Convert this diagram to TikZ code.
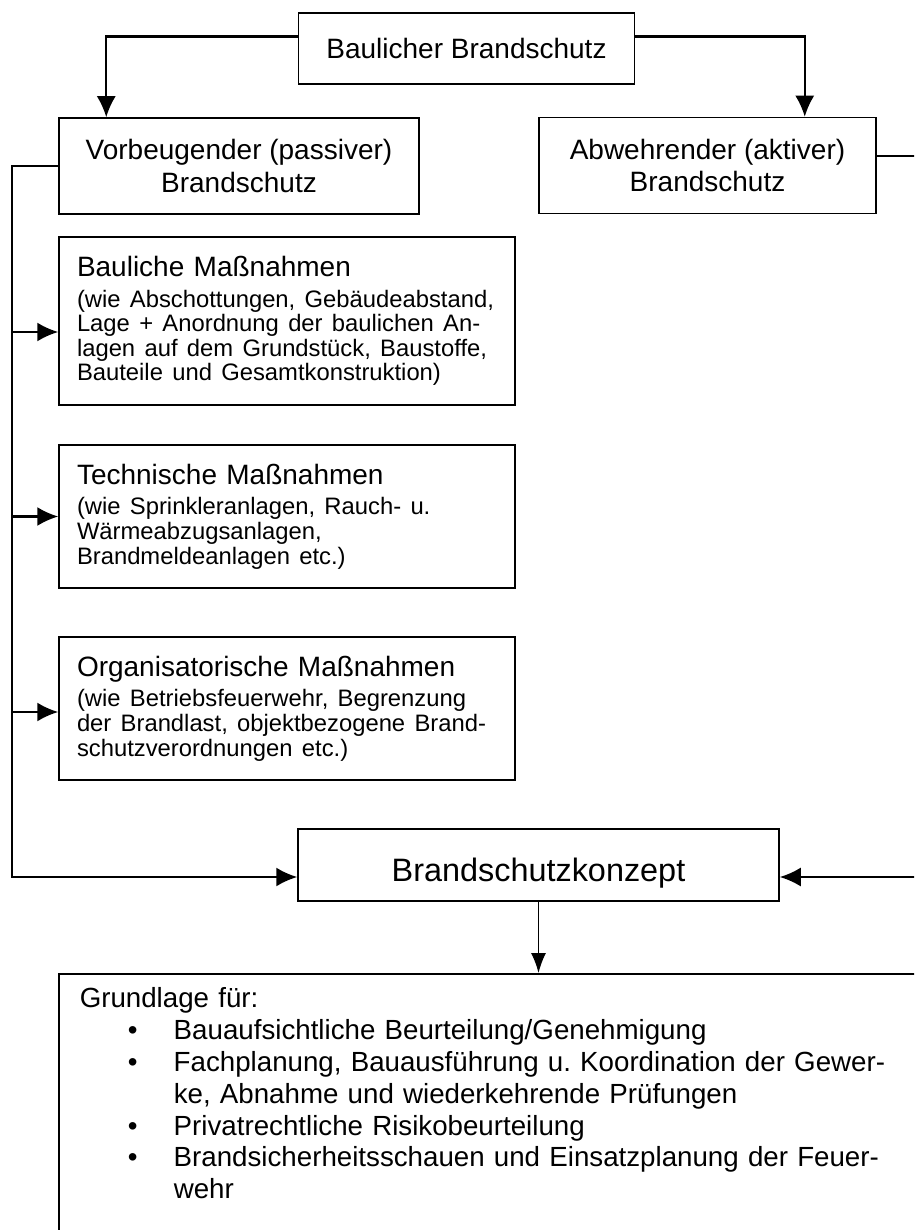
\documentclass[tikz,border=0pt]{standalone}
\usepackage{fontspec}
\setmainfont{Liberation Sans}
\usetikzlibrary{arrows.meta}
\frenchspacing

\newcommand{\grosstext}{\fontsize{28}{32.2}\selectfont}
\newcommand{\kleintext}{\fontsize{23.8}{24.6}\selectfont}
\newcommand{\punkt}{\makebox[94pt][l]{\hspace{48pt}\textbullet}}
\newcommand{\weiter}{\leavevmode\hspace*{94pt}}

\begin{document}
\begin{tikzpicture}[x=1pt,y=-1pt,
        kasten/.style={draw,line width=1.5pt,font=\grosstext,inner sep=0pt},
        massnahme/.style={kasten,inner xsep=18pt,text width=#1},
        pfeil/.style={line width=2.2pt,-{Latex[length=21pt,width=19pt]}}]
        \useasboundingbox (0,0) rectangle (914,1230);
        \clip (0,0) rectangle (914,1230);
        % Kaesten
        \node[kasten,minimum width=336pt,minimum height=71pt] (baulich) at (466.5,48.5) {Baulicher Brandschutz};
        \node[kasten,align=center,minimum width=360pt,minimum height=96pt] (vorbeugend) at (239,166) {Vorbeugender (passiver)\\Brandschutz};
        \node[kasten,align=center,minimum width=337pt,minimum height=96pt] (abwehrend) at (707.5,165.5) {Abwehrender (aktiver)\\Brandschutz};
        \node[massnahme=420pt,minimum height=168pt] (bau) at (287,321) {\raggedright Bauliche Maßnahmen\\[6pt]\kleintext \mbox{(wie Abschottungen, Gebäudeabstand,}\\\mbox{Lage + Anordnung der baulichen An-}\\\mbox{lagen auf dem Grundstück, Baustoffe,}\\Bauteile und Gesamtkonstruktion)\par};
        \node[massnahme=420pt,minimum height=143pt] (technik) at (287,516.5) {\raggedright Technische Maßnahmen\\[6pt]\kleintext (wie Sprinkleranlagen, Rauch- u.\\Wärmeabzugsanlagen,\\Brandmeldeanlagen etc.)\par};
        \node[massnahme=420pt,minimum height=143pt] (orga) at (287,708.5) {\raggedright Organisatorische Maßnahmen\\[6pt]\kleintext (wie Betriebsfeuerwehr, Begrenzung\\\mbox{der Brandlast, objektbezogene Brand-}\\schutzverordnungen etc.)\par};
        \node[kasten,minimum width=481pt,minimum height=72pt,font=\fontsize{32.4}{38}\selectfont,text height=33pt,text depth=0pt] (konzept) at (538.5,865) {Brandschutzkonzept};
        \node[kasten,anchor=north west,text width=870pt,inner xsep=21pt,inner ysep=14pt,text depth=300pt,font=\fontsize{27.7}{31.8}\selectfont] (grundlage) at (58,973) {\raggedright Grundlage für:\\
            \punkt Bauaufsichtliche Beurteilung/Genehmigung\\
            \punkt Fachplanung, Bauausführung u. Koordination der Gewer-\\
            \weiter ke, Abnahme und wiederkehrende Prüfungen\\
            \punkt Privatrechtliche Risikobeurteilung\\
            \punkt Brandsicherheitsschauen und Einsatzplanung der Feuer-\\
            \weiter wehr\par};
        % Verbindungen
        \coordinate (links) at (12,0);
        \coordinate (bauein) at ([yshift=-11pt]bau.west);
        \coordinate (orgaein) at ([yshift=-3.5pt]orga.west);
        \coordinate (linksein) at ([yshift=-12pt]konzept.west);
        \coordinate (rechtsaus) at ([yshift=9.5pt]abwehrend.east);
        \coordinate (rechtsein) at ([yshift=-12pt]konzept.east);
        \draw[pfeil] ([yshift=12pt]baulich.west) -| ([xshift=48pt]vorbeugend.north west);
        \draw[pfeil] ([yshift=12pt]baulich.east) -| ([xshift=-72pt]abwehrend.north east);
        \draw[pfeil] (vorbeugend.west) -| (links |- linksein) -- (linksein);
        \foreach \ziel in {bauein,technik.west,orgaein}
            \draw[pfeil] (links |- \ziel) -- (\ziel);
        \draw[pfeil] (rechtsaus) -- ++(60,0) |- (rechtsein);
        \draw[line width=1.4pt,-{Latex[length=20pt,width=15pt]}] (konzept.south) -- (konzept.south |- grundlage.north);
\end{tikzpicture}
\end{document}
